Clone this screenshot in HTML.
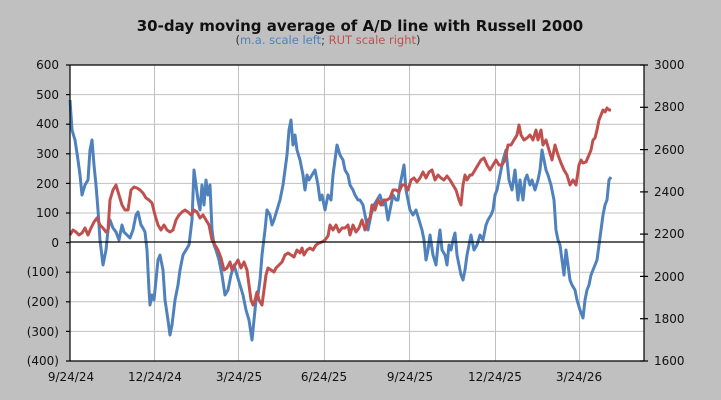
<!DOCTYPE html>
<html><head><meta charset="utf-8"><style>
body{margin:0;background:#c0c0c0;}
svg{display:block;font-family:"Liberation Sans","DejaVu Sans",sans-serif;}
</style></head><body>
<svg width="721" height="400" viewBox="0 0 721 400">
<rect width="721" height="400" fill="#c0c0c0"/>
<text x="360" y="31" text-anchor="middle" font-size="15" font-weight="bold" font-family="DejaVu Sans, sans-serif" fill="#111">30-day moving average of A/D line with Russell 2000</text>
<text x="328" y="44" text-anchor="middle" font-size="11.5" font-family="DejaVu Sans, sans-serif"><tspan fill="#333">(</tspan><tspan fill="#4f81bd">m.a. scale left</tspan><tspan fill="#333">; </tspan><tspan fill="#c0504d">RUT scale right</tspan><tspan fill="#333">)</tspan></text>
<rect x="70" y="65" width="574" height="296" fill="#fff"/>
<g stroke="#c0c0c0" stroke-width="1">
<line x1="70" y1="94.6" x2="644" y2="94.6"/><line x1="70" y1="124.2" x2="644" y2="124.2"/><line x1="70" y1="153.8" x2="644" y2="153.8"/><line x1="70" y1="183.4" x2="644" y2="183.4"/><line x1="70" y1="213" x2="644" y2="213"/><line x1="70" y1="272.2" x2="644" y2="272.2"/><line x1="70" y1="301.8" x2="644" y2="301.8"/><line x1="70" y1="331.4" x2="644" y2="331.4"/>
<line x1="154.5" y1="65" x2="154.5" y2="361"/><line x1="238.5" y1="65" x2="238.5" y2="361"/><line x1="324.5" y1="65" x2="324.5" y2="361"/><line x1="409.5" y1="65" x2="409.5" y2="361"/><line x1="495.5" y1="65" x2="495.5" y2="361"/><line x1="579.5" y1="65" x2="579.5" y2="361"/>
</g>
<polyline fill="none" stroke="#4f81bd" stroke-width="3" stroke-linejoin="round" points="70,100 72,130 75,140 78,160 80,175 82,195 85,185 88,180 90,150 92,140 94,165 96,185 98,210 100,240 103,265 106,250 108,230 110,220 113,228 116,232 119,240 122,225 124,232 127,235 130,238 133,230 136,215 138,212 141,225 143,228 145,232 147,250 149,290 150,305 152,295 154,300 156,280 158,260 160,255 163,270 165,300 168,320 170,335 172,325 175,300 178,285 180,270 183,255 186,250 189,245 192,220 194,170 196,185 198,200 200,210 202,185 204,205 206,180 208,195 210,185 212,230 214,245 216,250 219,260 222,275 225,295 228,290 231,275 234,265 237,275 240,285 243,295 246,310 249,320 252,340 254,320 256,300 258,295 260,280 262,255 265,230 267,210 270,215 272,225 274,220 277,210 280,200 283,185 285,170 287,155 289,130 291,120 293,145 295,135 297,150 300,160 303,175 305,190 307,175 309,180 312,175 315,170 318,185 320,200 322,195 325,210 328,195 331,200 333,175 335,160 337,145 340,155 343,160 345,170 348,175 350,185 353,190 355,195 358,200 360,200 363,205 366,220 368,230 371,215 374,205 377,200 380,195 383,205 385,200 388,220 390,210 393,195 396,200 398,200 400,185 402,175 404,165 406,190 408,200 410,210 413,215 416,210 419,220 422,230 424,240 426,260 428,250 430,235 433,255 436,265 438,245 440,230 442,250 445,255 447,265 449,245 451,250 453,240 455,233 457,255 459,265 461,275 463,280 465,270 467,255 469,245 471,235 474,250 477,245 480,235 483,240 486,225 488,220 491,215 493,210 495,195 497,190 500,175 503,160 506,150 509,180 512,190 515,170 518,200 520,180 523,200 525,180 527,175 530,185 532,180 535,190 538,180 540,170 542,150 544,160 546,170 548,175 551,185 554,200 556,230 558,240 560,245 562,260 564,275 566,250 568,265 570,280 572,285 575,290 577,300 580,310 583,318 585,300 587,290 589,285 591,275 593,270 595,265 597,260 599,245 601,230 603,215 605,205 607,200 609,180 611,177"/>
<polyline fill="none" stroke="#c0504d" stroke-width="3" stroke-linejoin="round" points="70,235 73,230 76,232 79,235 82,233 85,228 88,235 91,228 94,222 97,218 100,225 103,228 106,232 108,230 110,200 113,190 116,185 119,195 122,205 125,210 128,210 131,190 134,187 137,188 140,190 143,193 146,198 149,200 152,203 155,215 158,225 161,230 164,225 167,230 170,232 173,230 176,220 179,215 182,212 185,210 188,212 191,215 194,210 197,212 200,218 203,215 206,220 209,225 212,240 215,245 218,250 221,258 224,270 227,268 230,262 232,270 235,265 238,260 241,268 244,262 247,270 249,285 251,300 253,305 255,300 257,292 259,300 262,305 264,290 266,275 268,268 271,270 274,272 276,268 279,265 282,262 285,255 288,253 291,255 294,257 297,250 300,253 302,248 304,255 307,250 310,248 313,250 316,245 319,243 322,242 325,240 328,236 330,225 333,230 336,225 339,232 342,228 345,228 348,225 350,235 353,225 356,232 359,228 362,220 365,230 368,220 370,218 372,205 375,210 378,200 381,205 384,200 387,200 390,198 393,190 396,190 399,192 402,185 405,185 408,190 411,180 414,178 417,182 420,178 423,172 426,178 429,172 432,170 435,180 438,175 441,178 444,180 447,176 450,180 453,185 456,190 459,200 461,205 463,185 465,175 467,180 470,175 472,175 475,170 478,165 481,160 484,158 487,165 490,170 493,165 496,160 499,165 502,165 505,160 508,145 511,145 514,140 517,135 519,125 521,135 524,140 527,138 530,135 533,140 536,130 538,140 541,130 543,145 546,140 549,150 552,160 555,145 558,155 561,163 564,170 567,175 570,185 573,180 576,185 579,165 581,160 583,163 586,162 589,155 591,150 593,140 595,138 597,130 599,120 601,115 603,110 605,112 607,108 609,110 611,110"/>
<g stroke="#000" stroke-width="1.2">
<line x1="70" y1="65" x2="644" y2="65"/>
<line x1="70" y1="65" x2="70" y2="361"/>
<line x1="644" y1="65" x2="644" y2="361"/>
<line x1="70" y1="361" x2="644" y2="361"/>
<line x1="70" y1="242" x2="644" y2="242"/>
<line x1="66" y1="65" x2="70" y2="65"/><line x1="66" y1="94.6" x2="70" y2="94.6"/><line x1="66" y1="124.2" x2="70" y2="124.2"/><line x1="66" y1="153.8" x2="70" y2="153.8"/><line x1="66" y1="183.4" x2="70" y2="183.4"/><line x1="66" y1="213" x2="70" y2="213"/><line x1="66" y1="242.6" x2="70" y2="242.6"/><line x1="66" y1="272.2" x2="70" y2="272.2"/><line x1="66" y1="301.8" x2="70" y2="301.8"/><line x1="66" y1="331.4" x2="70" y2="331.4"/><line x1="66" y1="361" x2="70" y2="361"/>
<line x1="640" y1="65" x2="648" y2="65"/><line x1="640" y1="107.3" x2="648" y2="107.3"/><line x1="640" y1="149.6" x2="648" y2="149.6"/><line x1="640" y1="191.9" x2="648" y2="191.9"/><line x1="640" y1="234.1" x2="648" y2="234.1"/><line x1="640" y1="276.4" x2="648" y2="276.4"/><line x1="640" y1="318.7" x2="648" y2="318.7"/><line x1="640" y1="361" x2="648" y2="361"/>
</g>
<g font-size="12" font-family="DejaVu Sans, sans-serif" fill="#111" text-anchor="end">
<text x="59" y="69">600</text><text x="59" y="99">500</text><text x="59" y="128">400</text><text x="59" y="158">300</text><text x="59" y="188">200</text><text x="59" y="217">100</text><text x="59" y="247">0</text><text x="59" y="276">(100)</text><text x="59" y="306">(200)</text><text x="59" y="336">(300)</text><text x="59" y="365">(400)</text>
</g>
<g font-size="12" font-family="DejaVu Sans, sans-serif" fill="#111">
<text x="654" y="69">3000</text><text x="654" y="111">2800</text><text x="654" y="154">2600</text><text x="654" y="196">2400</text><text x="654" y="238">2200</text><text x="654" y="281">2000</text><text x="654" y="323">1800</text><text x="654" y="365">1600</text>
</g>
<g font-size="12" font-family="DejaVu Sans, sans-serif" fill="#111" text-anchor="middle">
<text x="71" y="381">9/24/24</text><text x="155" y="381">12/24/24</text><text x="239" y="381">3/24/25</text><text x="324" y="381">6/24/25</text><text x="410" y="381">9/24/25</text><text x="495" y="381">12/24/25</text><text x="579" y="381">3/24/26</text>
</g>
</svg>
</body></html>
